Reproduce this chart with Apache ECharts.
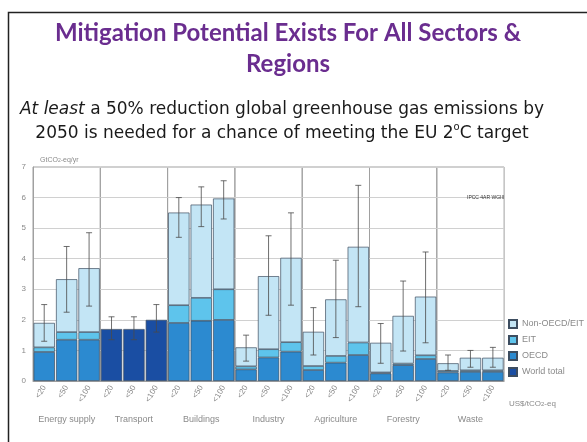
<!DOCTYPE html>
<html><head><meta charset="utf-8">
<script src="https://cdn.jsdelivr.net/npm/echarts@6/dist/echarts.min.js"></script>
<style>html,body{margin:0;padding:0;background:#fff}#c{width:587px;height:442px}</style>
</head><body><div id="c"></div>
<script>
const sectors = ['Energy supply','Transport','Buildings','Industry','Agriculture','Forestry','Waste'];
const priceCats = ['<20','<50','<100'];
const yTicks = [0,1,2,3,4,5,6,7];
// GtCO2-eq/yr, per sector, for the three carbon-price levels
const oecd   = [[0.95,1.35,1.35], null, [1.9,1.97,2.0], [0.38,0.77,0.96], [0.36,0.6,0.85], [0.25,0.52,0.72], [0.28,0.3,0.3]];
const eit    = [[0.15,0.25,0.25], null, [0.58,0.75,1.0], [0.1,0.27,0.31], [0.13,0.22,0.41], [0.03,0.05,0.12], [0.05,0.05,0.05]];
const nonOecd= [[0.8,1.73,2.09], null, [3.03,3.05,2.97], [0.62,2.39,2.76], [1.12,1.85,3.13], [0.97,1.56,1.92], [0.25,0.41,0.41]];
const worldTotal = [null, [1.7,1.7,2.0], null, null, null, null, null];
const errLow  = [[1.3,2.25,2.45],[1.35,1.35,1.6],[4.7,5.05,5.3],[0.65,2.15,2.48],[0.85,1.42,2.43],[0.58,0.98,1.25],[0.35,0.45,0.45]];
const errHigh = [[2.5,4.4,4.85],[2.1,2.1,2.5],[6.0,6.35,6.55],[1.5,4.75,5.5],[2.4,3.95,6.4],[1.88,3.27,4.22],[0.85,1.0,1.1]];
const legendNames = ['Non-OECD/EIT','EIT','OECD','World total'];

const colors = {'Non-OECD/EIT':'#c3e5f5','EIT':'#5ec4ec','OECD':'#2c8ad0','World total':'#1a4ea3'};
const gray = '#8a8a8a';
const left0 = 33, panelW = 67.3, top0 = 167, h = 214;

const grid = [], xAxis = [], yAxis = [], series = [];
sectors.forEach((s, i) => {
  grid.push({left: left0 + i*panelW, top: top0, width: panelW, height: h, show: true, borderColor: '#a0a0a0', borderWidth: 1});
  xAxis.push({type:'category', gridIndex:i, data: priceCats,
    axisLine:{show:true, lineStyle:{color:'#a0a0a0'}}, axisTick:{show:false},
    axisLabel:{rotate:60, fontSize:8, color:gray, margin:5, fontFamily:'Liberation Sans'},
    name: s, nameLocation:'middle', nameGap:34, nameTextStyle:{fontSize:9, color:gray, fontFamily:'Liberation Sans'}});
  yAxis.push({type:'value', gridIndex:i, min:0, max:7, interval:1,
    axisLine:{show: i===0, lineStyle:{color:'#a0a0a0'}}, axisTick:{show:false},
    axisLabel:{show: i===0, fontSize:8, color:gray, margin:7, fontFamily:'Liberation Sans'},
    splitLine:{show:true, lineStyle:{color:'#d0d0d0'}}});
  const bar = (name, data) => ({type:'bar', name, xAxisIndex:i, yAxisIndex:i, stack:'s'+i, data,
    barCategoryGap:'5%', itemStyle:{color:colors[name], borderColor:'#3d4d60', borderWidth:0.7}});
  if (worldTotal[i]) {
    series.push(bar('World total', worldTotal[i]));
  } else {
    series.push(bar('OECD', oecd[i]));
    series.push(bar('EIT', eit[i]));
    series.push(bar('Non-OECD/EIT', nonOecd[i]));
  }
  series.push({type:'custom', xAxisIndex:i, yAxisIndex:i, z:10,
    data: priceCats.map((c, k) => [k, errLow[i][k], errHigh[i][k]]),
    encode:{x:0, y:[1,2]},
    renderItem: (params, api) => {
      const lo = api.coord([api.value(0), api.value(1)]);
      const hi = api.coord([api.value(0), api.value(2)]);
      const st = {stroke:'#4a4a4a', lineWidth:0.8};
      return {type:'group', children:[
        {type:'line', shape:{x1:lo[0], y1:lo[1], x2:hi[0], y2:hi[1]}, style:st},
        {type:'line', shape:{x1:lo[0]-3, y1:lo[1], x2:lo[0]+3, y2:lo[1]}, style:st},
        {type:'line', shape:{x1:hi[0]-3, y1:hi[1], x2:hi[0]+3, y2:hi[1]}, style:st}
      ]};
    }});
});

const chart = echarts.init(document.getElementById('c'));
chart.setOption({
  animation:false,
  title:[
    {text:'Mitigation Potential Exists For All Sectors &\nRegions', top:13,
     textAlign:'center', left:283,
     textStyle:{fontSize:24, lineHeight:31, color:'#6a2d8f', fontWeight:'bold', fontFamily:'Lato'}},
    {text:'{i|At least} a 50% reduction global greenhouse gas emissions by\n2050 is needed for a chance of meeting the EU 2{s|o}C target',
     left:277, textAlign:'center', top:93,
     textStyle:{fontSize:17, lineHeight:24, color:'#1a1a1a', fontWeight:'normal', fontFamily:'DejaVu Sans',
       rich:{i:{fontStyle:'italic', fontSize:17, fontFamily:'DejaVu Sans', color:'#1a1a1a'},
             s:{fontSize:10, verticalAlign:'top', fontFamily:'DejaVu Sans', color:'#1a1a1a'}}}},
    {text:'GtCO{b|2}-eq/yr', left:35, top:152, textStyle:{fontSize:7, color:gray, fontWeight:'normal', fontFamily:'Liberation Sans',
       rich:{b:{fontSize:5, color:gray}}}},
    {text:'IPCC 4AR WGIII', left:462, top:190, textStyle:{fontSize:5, color:'#333', fontWeight:'normal', fontFamily:'Liberation Sans'}},
    {text:'US$/tCO{b|2}-eq', left:504, top:395, textStyle:{fontSize:8, color:gray, fontWeight:'normal', fontFamily:'Liberation Sans',
       rich:{b:{fontSize:6, color:gray}}}}
  ],
  legend:{data:legendNames, orient:'vertical', left:503, top:314, itemWidth:8, itemHeight:8, itemGap:6, icon:'rect',
    textStyle:{fontSize:9, color:gray, fontFamily:'Liberation Sans'}},
  graphic:[{type:'rect', shape:{x:8.5, y:12.5, width:600, height:450}, style:{fill:null, stroke:'#222', lineWidth:1.5}, silent:true}],
  grid, xAxis, yAxis, series
});
</script></body></html>
